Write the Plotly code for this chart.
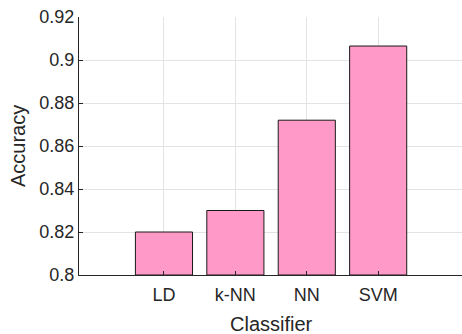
import plotly.graph_objects as go

categories = ["LD", "k-NN", "NN", "SVM"]
accuracy = [0.820, 0.830, 0.872, 0.9065]
y_ticks = [0.80, 0.82, 0.84, 0.86, 0.88, 0.90, 0.92]
y_tick_labels = ["0.8", "0.82", "0.84", "0.86", "0.88", "0.9", "0.92"]
y_floor = 0.8

fig = go.Figure(go.Bar(
    x=list(range(len(categories))),
    y=[v - y_floor for v in accuracy],
    base=y_floor,
    width=0.8,
    marker=dict(color="#FF99C8", line=dict(color="#1a1a1a", width=1)),
    hoverinfo="skip",
))

W, H = 462, 334
L, R, T, B = 79, 0, 17, 59
pw, ph = W - L - R, H - T - B

font_fam = "Liberation Sans, Arial, sans-serif"
fig.update_layout(
    width=W, height=H,
    margin=dict(l=L, r=R, t=T, b=B),
    plot_bgcolor="white", paper_bgcolor="white",
    showlegend=False,
    font=dict(family=font_fam, color="#262626", size=18),
    xaxis=dict(
        range=[-1.19, 4.174],
        tickmode="array",
        tickvals=list(range(len(categories))),
        ticktext=categories,
        ticks="inside", ticklen=4, tickcolor="#262626",
        showline=True, linecolor="#262626", linewidth=1,
        showgrid=True, gridcolor="#e3e3e3", gridwidth=1,
        zeroline=False, automargin=False,
        tickfont=dict(size=18), ticklabelstandoff=3,
    ),
    yaxis=dict(
        range=[0.8, 0.92],
        tickmode="array",
        tickvals=y_ticks,
        ticktext=y_tick_labels,
        ticks="inside", ticklen=4, tickcolor="#262626",
        showline=True, linecolor="#262626", linewidth=1,
        showgrid=True, gridcolor="#e3e3e3", gridwidth=1,
        zeroline=False, automargin=False,
        tickfont=dict(size=18),
    ),
    annotations=[
        dict(text="Classifier", xref="paper", yref="paper",
             x=(271 - L) / pw, y=(H - B - 324) / ph,
             xanchor="center", yanchor="middle", showarrow=False,
             font=dict(size=20)),
        dict(text="Accuracy", xref="paper", yref="paper",
             x=(18 - L) / pw, y=0.5, textangle=-90,
             xanchor="center", yanchor="middle", showarrow=False,
             font=dict(size=20)),
    ],
)

fig.write_html(
    "out.html",
    config={"displayModeBar": False},
    post_script="document.body.style.margin='0';document.body.style.padding='0';",
)
